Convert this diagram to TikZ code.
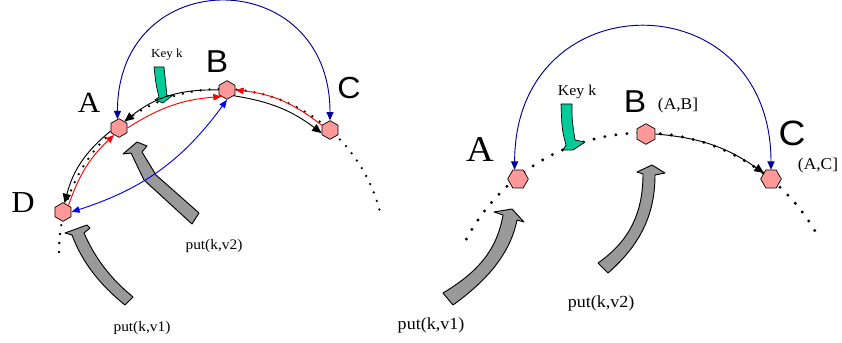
\documentclass[tikz,border=0pt]{standalone}
\usepackage{fontspec}
\setmainfont{Liberation Serif}[FakeStretch=1.06]
\newfontfamily\lettersans{Liberation Sans}[FakeStretch=1.06]
\usetikzlibrary{arrows.meta,shapes.geometric}
\definecolor{nodepink}{RGB}{255,153,153}
\definecolor{ringnavy}{RGB}{0,0,153}
\definecolor{keygreen}{RGB}{0,204,153}
\definecolor{putgray}{RGB}{153,153,153}
\newcommand{\fsz}[1]{\fontsize{#1}{#1}\selectfont}

\begin{document}
\begin{tikzpicture}[
    x=0.03cm, y=-0.03cm,
    hexnode/.style={regular polygon, regular polygon sides=6, regular polygon rotate=30,
        draw=black, fill=nodepink, line width=0.6pt, minimum size=0.56cm, inner sep=0pt},
    flathex/.style={regular polygon, regular polygon sides=6,
        draw=black, fill=nodepink, line width=0.6pt, minimum size=0.62cm, inner sep=0pt},
    ringdots/.style={line width=2.2pt, line cap=round, dash pattern=on 0pt off 7.7pt},
    bigdots/.style={line width=2.8pt, line cap=round, dash pattern=on 0pt off 9.5pt},
    blackarr/.style={draw=black, line width=0.8pt, -{Triangle[length=8pt,width=7pt]}},
    redarr/.style={draw=red, line width=0.8pt, -{Triangle[length=7pt,width=5.5pt]}},
    bluearr/.style={draw=blue, line width=0.8pt, {Triangle[length=7pt,width=5.5pt]}-{Triangle[length=7pt,width=5.5pt]}},
    navyarr/.style={draw=ringnavy, line width=0.8pt, {Triangle[length=7pt,width=6pt]}-{Triangle[length=7pt,width=6pt]}},
    putarrow/.style={draw=black, fill=putgray, line width=0.8pt, line join=round},
    keyarrow/.style={draw=black, fill=keygreen, line width=0.6pt, line join=round},
    txt/.style={inner sep=0pt}
]
\useasboundingbox (0,0) rectangle (842,343);

% Rings
\draw[ringdots] (222,252) ++(180:163) arc[start angle=180, end angle=346, radius=163];
\draw[bigdots] (643,333) ++(208:200) arc[start angle=208, end angle=332, radius=200];

% put arrows (left)
\draw[putarrow] (199,213) -- (156,175) -- (142,152) -- (147,146) -- (137,142) -- (123,154)
    -- (131,153) -- (144,180) -- (192,224) -- cycle;
\draw[putarrow] (133,297) .. controls (110,278) and (95,258) .. (84,233) -- (90,228) -- (87,225)
    -- (65,233) -- (72,235) .. controls (82,262) and (100,285) .. (125,305) -- cycle;

% put arrows (right)
\draw[putarrow] (453,305) .. controls (485,282) and (510,255) .. (517,220) -- (524,222) -- (512,209)
    -- (494,212) -- (503,215) .. controls (497,250) and (478,272) .. (443,293) -- cycle;
\draw[putarrow] (608,273) .. controls (640,245) and (655,215) .. (655,175) -- (665,173) -- (652,165)
    -- (637,172) -- (643,174) .. controls (643,215) and (628,242) .. (598,263) -- cycle;

% Key arrows
\draw[keyarrow] (154,67) -- (164,67) .. controls (165,82) .. (167,96) -- (173,95) -- (163,103)
    -- (155,100) -- (159,97) .. controls (156,85) .. (154,67) -- cycle;
\draw[keyarrow] (561,104) -- (572,104) .. controls (572,120) .. (575,140) -- (585,142) -- (573,150)
    -- (563,150) -- (566,145) .. controls (562,130) .. (561,104) -- cycle;

% Nodes (left)
\node[hexnode] (lA) at (119,128) {};
\node[hexnode] (lB) at (227,90) {};
\node[hexnode] (lC) at (330,130) {};
\node[hexnode] (lD) at (63,212) {};

% Nodes (right)
\node[flathex] (rA) at (518,179) {};
\node[hexnode, minimum size=0.62cm] (rB) at (646,134) {};
\node[flathex] (rC) at (771,179) {};

% Connectors (left)
\draw[blackarr] (lB.180) to[bend right=20] (lA.50);
\draw[blackarr] (lA.200) to[bend right=18] (lD.80);
\draw[blackarr] (lB.-40) to[bend left=14] (lC.200);
\draw[redarr] (lC.150) to[bend right=16] (lB.0);
\draw[redarr] (lA.0) to[bend left=14] (lB.230);
\draw[redarr] (lD.50) to[bend left=14] (lA.235);
\draw[bluearr] (lD.0) to[bend right=18] (lB.270);
\draw[navyarr] (lA.100) .. controls +(0,-157) and +(0,-157) .. (lC.north);

% Connectors (right)
\draw[blackarr] (rB.0) to[bend left=15] (rC.140);
\draw[navyarr] (rA.110) .. controls +(0,-190) and +(0,-190) .. (rC.north);

% Labels (left)
\node[txt, font=\fsz{25}] (lblA) at (89,103) {A};
\node[txt, font=\lettersans\fsz{27}] (lblB) at (217,62) {B};
\node[txt, font=\lettersans\fsz{26}] (lblC) at (349,88) {C};
\node[txt, font=\fsz{26}] (lblD) at (23,203) {D};
\node[txt, font=\fsz{10.5}] (lkey) at (167,55) {Key k};
\node[txt, font=\fsz{12.4}] (lput2) at (214,246) {put(k,v2)};
\node[txt, font=\fsz{12.4}] (lput1) at (142,328) {put(k,v1)};

% Labels (right)
\node[txt, font=\fsz{31}] (rlblA) at (480,150) {A};
\node[txt, font=\lettersans\fsz{27}] (rlblB) at (635,102) {B};
\node[txt, font=\fsz{14}] (rlblAB) at (678,106) {(A,B]};
\node[txt, font=\lettersans\fsz{30}] (rlblC) at (792,133) {C};
\node[txt, font=\fsz{14}] (rlblAC) at (818,166) {(A,C]};
\node[txt, font=\fsz{12.8}] (rkey) at (577,92) {Key k};
\node[txt, font=\fsz{14.5}] (rput2) at (601,303) {put(k,v2)};
\node[txt, font=\fsz{14.5}] (rput1) at (431,325) {put(k,v1)};

\end{tikzpicture}
\end{document}
